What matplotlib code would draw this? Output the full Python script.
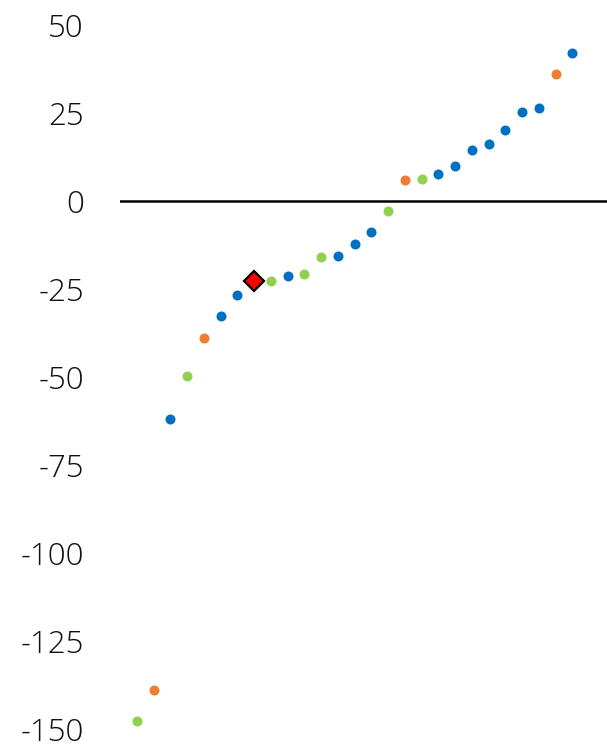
import numpy as np
import matplotlib.pyplot as plt

# values sorted ascending, one per item
values = [-147.7, -139.0, -62.0, -49.6, -38.8, -32.8, -26.6, -22.8, -22.6, -21.2,
          -20.8, -16.0, -15.6, -12.3, -8.8, -2.8, 5.9, 6.3, 7.8, 10.0,
          14.4, 16.2, 20.3, 25.4, 26.4, 36.0, 42.0]
groups = ["green", "orange", "blue", "green", "orange", "blue", "blue", "highlight", "green", "blue",
          "green", "green", "blue", "blue", "blue", "green", "orange", "green", "blue", "blue",
          "blue", "blue", "blue", "blue", "blue", "orange", "blue"]
y_ticks = [50, 25, 0, -25, -50, -75, -100, -125, -150]

colors = {"blue": "#0070C0", "orange": "#ED7D31", "green": "#92D050"}

plt.rcParams['font.family'] = ['Open Sans', 'DejaVu Sans']

fig = plt.figure(figsize=(6.07, 7.46), dpi=100)
ax = fig.add_axes([0.1977, 0.0228, 0.8023, 0.9437])

x = np.arange(1, len(values) + 1)
vals = np.array(values)
grp = np.array(groups)

for g, c in colors.items():
    m = grp == g
    ax.plot(x[m], vals[m], "o", color=c, markersize=7.2, markeredgewidth=0, zorder=3)

m = grp == "highlight"
ax.plot(x[m], vals[m], "D", color="#FF0000", markeredgecolor="black",
        markersize=10, markeredgewidth=1.6, zorder=4)

ax.axhline(0, color="black", linewidth=1.8, zorder=2)

ax.set_xlim(0, 29.06)
ax.set_ylim(-150, 50)
ax.set_yticks(y_ticks)
ax.set_yticklabels([str(t) for t in y_ticks], fontweight="light")
ax.set_xticks([])
ax.tick_params(axis="y", length=0, pad=26, labelsize=22.5, labelcolor="#111111")
for s in ax.spines.values():
    s.set_visible(False)

fig.savefig("out.png", dpi=100)
